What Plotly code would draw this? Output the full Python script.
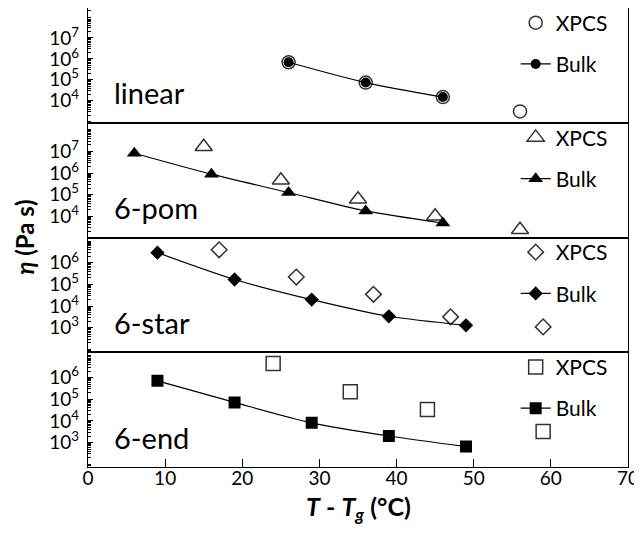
import plotly.graph_objects as go
from plotly.subplots import make_subplots

# ---- data ----
panel_names = ["linear", "6-pom", "6-star", "6-end"]

lin_bulk_x = [26, 36, 46]
lin_bulk_y = [6.9e5, 7.4e4, 1.5e4]
lin_xpcs_x = [26, 36, 46, 56]
lin_xpcs_y = [6.9e5, 7.4e4, 1.5e4, 3.1e3]

pom_bulk_x = [6, 16, 26, 36, 46]
pom_bulk_y = [8.3e6, 8.9e5, 1.26e5, 1.78e4, 4.9e3]
pom_xpcs_x = [15, 25, 35, 45, 56]
pom_xpcs_y = [1.66e7, 4.7e5, 6.2e4, 1.0e4, 2.4e3]

star_bulk_x = [9, 19, 29, 39, 49]
star_bulk_y = [2.95e6, 1.7e5, 2.0e4, 3.4e3, 1.3e3]
star_xpcs_x = [17, 27, 37, 47, 59]
star_xpcs_y = [4.0e6, 2.2e5, 3.5e4, 3.2e3, 1.1e3]

end_bulk_x = [9, 19, 29, 39, 49]
end_bulk_y = [7.1e5, 7.1e4, 8.1e3, 2.0e3, 6.5e2]
end_xpcs_x = [24, 34, 44, 59]
end_xpcs_y = [4.5e6, 2.2e5, 3.4e4, 3.2e3]

x_ticks = [0, 10, 20, 30, 40, 50, 60, 70]
y_ticks_top = [1e4, 1e5, 1e6, 1e7]
y_ticks_bot = [1e3, 1e4, 1e5, 1e6]
y_ranges = [[2.95, 8.43], [3.02, 8.33], [1.87, 7.17], [1.87, 7.17]]

FONT = "Lato"

panels = [
    (lin_xpcs_x, lin_xpcs_y, lin_bulk_x, lin_bulk_y, "circle", 13, 10, y_ticks_top),
    (pom_xpcs_x, pom_xpcs_y, pom_bulk_x, pom_bulk_y, "triangle-up", 15, 13, y_ticks_top),
    (star_xpcs_x, star_xpcs_y, star_bulk_x, star_bulk_y, "diamond", 12, 11, y_ticks_bot),
    (end_xpcs_x, end_xpcs_y, end_bulk_x, end_bulk_y, "square", 14, 12, y_ticks_bot),
]

fig = make_subplots(rows=4, cols=1, shared_xaxes=True, vertical_spacing=0)

legend_ids = ["legend", "legend2", "legend3", "legend4"]

for i, (xx, xy, bx, by, sym, xs, bs, yt) in enumerate(panels):
    r = i + 1
    lg = legend_ids[i]
    fig.add_trace(go.Scatter(
        x=xx, y=xy, mode="markers", name="XPCS", legend=lg, legendgroup=f"x{r}",
        marker=dict(symbol=sym, size=xs, color="white",
                    line=dict(color="#333333", width=1.5)),
    ), row=r, col=1)
    fig.add_trace(go.Scatter(
        x=bx, y=by, mode="lines+markers", name="Bulk", legend=lg, legendgroup=f"b{r}",
        line=dict(color="black", width=1.2, shape="spline", smoothing=0.8),
        marker=dict(symbol=sym, size=bs, color="black", line=dict(color="black", width=0)),
    ), row=r, col=1)
    fig.update_yaxes(
        row=r, col=1, type="log", range=y_ranges[i], automargin=False,
        tickvals=yt, ticktext=[f"10<sup>{len(str(int(v))) - 1}</sup>" for v in yt],
        ticks="inside", ticklen=5, tickwidth=1.2, tickcolor="black",
        minor=dict(ticks="inside", ticklen=3, tickcolor="black", dtick="D1"),
        showgrid=False, zeroline=False,
        showline=True, linecolor="black", linewidth=1.3, mirror=True,
        tickfont=dict(family=FONT, size=19, color="black"),
        ticklabelstandoff=4,
    )
    fig.update_xaxes(
        row=r, col=1, range=[0, 70], tickvals=x_ticks, automargin=False,
        showgrid=False, zeroline=False,
        showline=True, linecolor="black", linewidth=1.3, mirror=True,
        ticks="inside" if r == 4 else "", ticklen=8, tickwidth=1.2, tickcolor="black",
        showticklabels=(r == 4),
        tickfont=dict(family=FONT, size=19, color="black"),
        ticklabelstandoff=-6,
    )
    # panel label
    fig.add_annotation(
        text=panel_names[i], xref=f"x{'' if r == 1 else r} domain",
        yref=f"y{'' if r == 1 else r} domain",
        x=0.045, y=0.09, xanchor="left", yanchor="bottom", showarrow=False,
        font=dict(family=FONT, size=29, color="black"),
    )

# legends, one per panel
dom_tops = [1.0, 0.75, 0.5, 0.25]
legend_cfg = {}
for i, lg in enumerate(legend_ids):
    legend_cfg[lg] = dict(
        x=0.792, y=dom_tops[i] + 0.012, xanchor="left", yanchor="top",
        bgcolor="rgba(0,0,0,0)", borderwidth=0,
        font=dict(family=FONT, size=21, color="black"),
        tracegroupgap=11, traceorder="grouped",
    )

# the page body adds an 8 px offset, so the figure is 8 px smaller
fig.update_layout(
    width=634, height=526,
    margin=dict(l=80, r=14, t=0, b=67, autoexpand=False),
    paper_bgcolor="white", plot_bgcolor="white",
    showlegend=True,
    **legend_cfg,
)

# axis titles
fig.add_annotation(
    text="<b><i>η</i> (Pa s)</b>", xref="paper", yref="paper",
    x=-0.118, y=0.5, xanchor="center", yanchor="middle", textangle=-90,
    showarrow=False, font=dict(family=FONT, size=24, color="black"),
)
fig.add_annotation(
    text="<b><i>T</i> - <i>T<sub>g</sub></i> (°C)</b>", xref="paper", yref="paper",
    x=0.5, y=-0.09, xanchor="center", yanchor="middle",
    showarrow=False, font=dict(family=FONT, size=25, color="black"),
)

fig.write_html("out.html")
